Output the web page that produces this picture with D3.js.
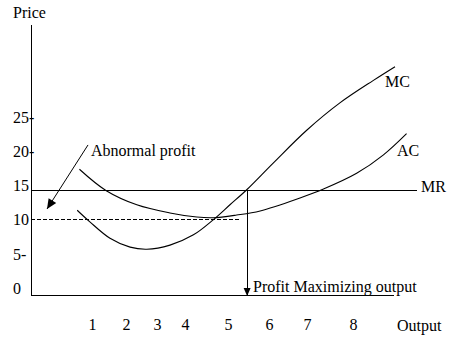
<!DOCTYPE html>
<html>
<head>
<meta charset="utf-8">
<script src="https://cdn.jsdelivr.net/npm/d3@7"></script>
<style>
  html, body { margin: 0; padding: 0; background: #fff; }
  svg { display: block; }
</style>
</head>
<body>
<svg id="chart" width="473" height="345"></svg>
<script>
// Marginal cost curve (output, price)
const mcOutput = [0.6, 0.94, 1.48, 2.02, 2.47, 3.09, 3.72, 4.25, 4.7, 5.15, 5.86, 6.76, 7.65, 8.55, 9.13];
const mcCost   = [11.4, 9.7, 7.3, 6.0, 5.7, 6.3, 7.8, 10.0, 12.2, 14.4, 18.3, 23.1, 27.1, 30.4, 32.4];

// Average cost curve (output, price)
const acOutput = [0.66, 1.37, 2.2, 3.09, 3.81, 4.25, 4.88, 5.51, 6.58, 7.21, 8.1, 8.82, 9.44];
const acCost   = [17.4, 14.3, 12.2, 11.0, 10.4, 10.3, 10.7, 11.3, 13.2, 14.5, 16.8, 19.5, 22.6];

// Marginal revenue (price line), average cost at the chosen output, chosen output
const marginalRevenue = 14.3;
const averageCostAtOptimum = 10;
const profitMaxOutput = 5.16;

// Axis labels
const priceTicks = [0, 5, 10, 15, 20, 25];
const priceTickLabels = ["0", "5-", "10", "15", "20-", "25-"];
const outputTickAt = [1, 1.91, 2.74, 3.49, 4.65, 5.75, 6.77, 8];
const outputTickLabels = ["1", "2", "3", "4", "5", "6", "7", "8"];

const FONT = '"Liberation Serif", "Times New Roman", serif';

const svg = d3.select("#chart");
svg.append("rect").attr("width", 473).attr("height", 345).attr("fill", "#fff");

const xMin = -0.64, xMax = 9.72, yMin = -1, yMax = 38.5;
const x = d3.scaleLinear().domain([xMin, xMax]).range([31, 417]);
const y = d3.scaleLinear().domain([yMin, yMax]).range([295, 25]);

const styleText = sel => sel.style("font-family", FONT).style("font-size", "16px").style("fill", "#000");
const label = (px, py, str) => svg.append("text").attr("x", px).attr("y", py).attr("dy", "0.35em")
  .call(styleText).text(str);

const straight = (x1, y1, x2, y2) => svg.append("line")
  .attr("x1", x(x1)).attr("y1", y(y1)).attr("x2", x(x2)).attr("y2", y(y2))
  .attr("stroke", "#000").attr("stroke-width", 1).attr("shape-rendering", "crispEdges");

// Axes
straight(xMin, yMax, xMin, yMin);
straight(xMin, yMin, 9.1, yMin);

// Price axis labels, left aligned
svg.append("g").selectAll("text").data(priceTicks).join("text")
  .attr("x", 13).attr("y", d => y(d)).attr("dy", "0.35em")
  .call(styleText)
  .text((d, i) => priceTickLabels[i]);

label(13, 12, "Price");

// Output axis labels
const xAxis = d3.axisBottom(x).tickValues(outputTickAt)
  .tickFormat((d, i) => outputTickLabels[i]).tickSize(0).tickPadding(0);
const gx = svg.append("g").attr("transform", "translate(0,319)").call(xAxis);
gx.select(".domain").remove();
gx.selectAll("text").call(styleText);

label(x(9.18), 325, "Output");

// MR line
straight(xMin, marginalRevenue, xMax, marginalRevenue);
label(x(9.83), y(14.95), "MR");

// Dashed line at average cost
straight(xMin, averageCostAtOptimum, 5.0, averageCostAtOptimum).attr("stroke-dasharray", "4,2");

// Cost curves
const curve = d3.line().x(d => x(d[0])).y(d => y(d[1])).curve(d3.curveCatmullRom.alpha(0.5));
svg.append("path").datum(d3.zip(mcOutput, mcCost)).attr("d", curve)
  .attr("fill", "none").attr("stroke", "#000").attr("stroke-width", 1.1);
svg.append("path").datum(d3.zip(acOutput, acCost)).attr("d", curve)
  .attr("fill", "none").attr("stroke", "#000").attr("stroke-width", 1.1);

label(x(8.86), y(30.24), "MC");
label(x(9.18), y(20.2), "AC");

// Arrow head as a filled triangle pointing from (px,py) towards (tx,ty), pixel space
function arrowHead(px, py, tx, ty, len, half) {
  const dx = tx - px, dy = ty - py, L = Math.hypot(dx, dy);
  const ux = dx / L, uy = dy / L;
  const bx = tx - ux * len, by = ty - uy * len;
  const pts = [[tx, ty], [bx - uy * half, by + ux * half], [bx + uy * half, by - ux * half]];
  svg.append("polygon").attr("points", pts.map(p => p.join(",")).join(" ")).attr("fill", "#000");
}

// Profit maximizing output: drop line from MR to the output axis
straight(profitMaxOutput, marginalRevenue, profitMaxOutput, yMin);
arrowHead(x(profitMaxOutput), y(marginalRevenue), x(profitMaxOutput), y(yMin) + 1, 8, 3.5);
label(x(5.32), y(0.32), "Profit Maximizing output");

// Abnormal profit annotation
const a0 = [0.89, 20.95], a1 = [-0.21, 11.58];
svg.append("line").attr("x1", x(a0[0])).attr("y1", y(a0[1])).attr("x2", x(a1[0])).attr("y2", y(a1[1]))
  .attr("stroke", "#000").attr("stroke-width", 1);
arrowHead(x(a0[0]), y(a0[1]), x(a1[0]), y(a1[1]), 10, 4.5);
label(x(0.97), y(20.2), "Abnormal profit");
</script>
</body>
</html>
